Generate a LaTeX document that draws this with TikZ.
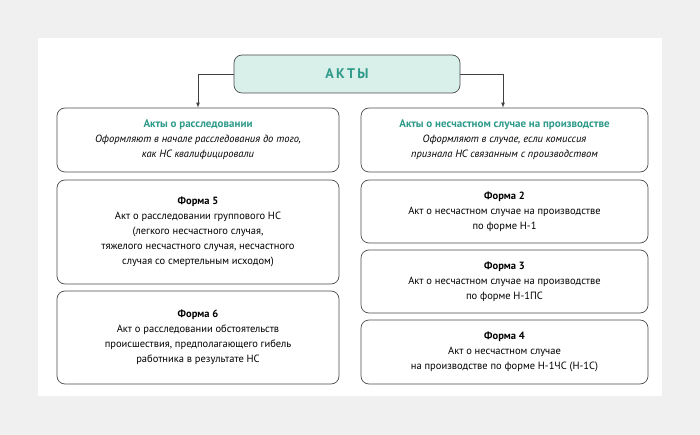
\documentclass[tikz,border=0pt]{standalone}
\usepackage{fontspec}
\setmainfont{PT Sans}
\begin{document}
\begin{tikzpicture}[x=1pt,y=-1pt,
  box/.style={draw=black!70,line width=0.7pt,rounded corners=8pt,fill=white,align=center,inner sep=0pt,font=\fontsize{10.5}{15}\selectfont},
  arr/.style={draw=black!75,line width=0.7pt,-latex}]
\definecolor{teal1}{HTML}{2E9A8A}
\definecolor{tealbg}{HTML}{D9EFEA}
\fill[black!6] (0,0) rectangle (700,435);
\fill[white] (38,38) rectangle (662,396);
\useasboundingbox (0,0) rectangle (700,435);
\node[box,fill=tealbg,minimum width=226pt,minimum height=38pt,font=\bfseries\fontsize{14}{16}\selectfont,text=teal1] (top) at (347,74) {А\,К\,Т\,Ы};
\node[box,minimum width=282pt,minimum height=64pt] (lh) at (198,140) {{\bfseries\color{teal1}\fontsize{11}{15}\selectfont Акты о расследовании}\\\itshape Оформляют в начале расследования до того,\\\itshape как НС квалифицировали};
\node[box,minimum width=287pt,minimum height=64pt] (rh) at (504.5,140) {{\bfseries\color{teal1}\fontsize{11}{15}\selectfont Акты о несчастном случае на производстве}\\\itshape Оформляют в случае, если комиссия\\\itshape признала НС связанным с производством};
\node[box,minimum width=282pt,minimum height=104pt] (f5) at (198,232) {\textbf{Форма 5}\\Акт о расследовании группового НС\\(легкого несчастного случая,\\тяжелого несчастного случая, несчастного\\случая со смертельным исходом)};
\node[box,minimum width=282pt,minimum height=93pt] (f6) at (198,337.5) {\textbf{Форма 6}\\Акт о расследовании обстоятельств\\происшествия, предполагающего гибель\\работника в результате НС};
\node[box,minimum width=287pt,minimum height=63pt] (f2) at (504.5,211.5) {\textbf{Форма 2}\\Акт о несчастном случае на производстве\\по форме Н-1};
\node[box,minimum width=287pt,minimum height=63pt] (f3) at (504.5,281.5) {\textbf{Форма 3}\\Акт о несчастном случае на производстве\\по форме Н-1ПС};
\node[box,minimum width=287pt,minimum height=64pt] (f4) at (504.5,352) {\textbf{Форма 4}\\Акт о несчастном случае\\на производстве по форме Н-1ЧС (Н-1С)};
\draw[arr] (top.west) -| (lh.north);
\draw[arr] (top.east) -| ([xshift=-1.5pt]rh.north);
\end{tikzpicture}
\end{document}
